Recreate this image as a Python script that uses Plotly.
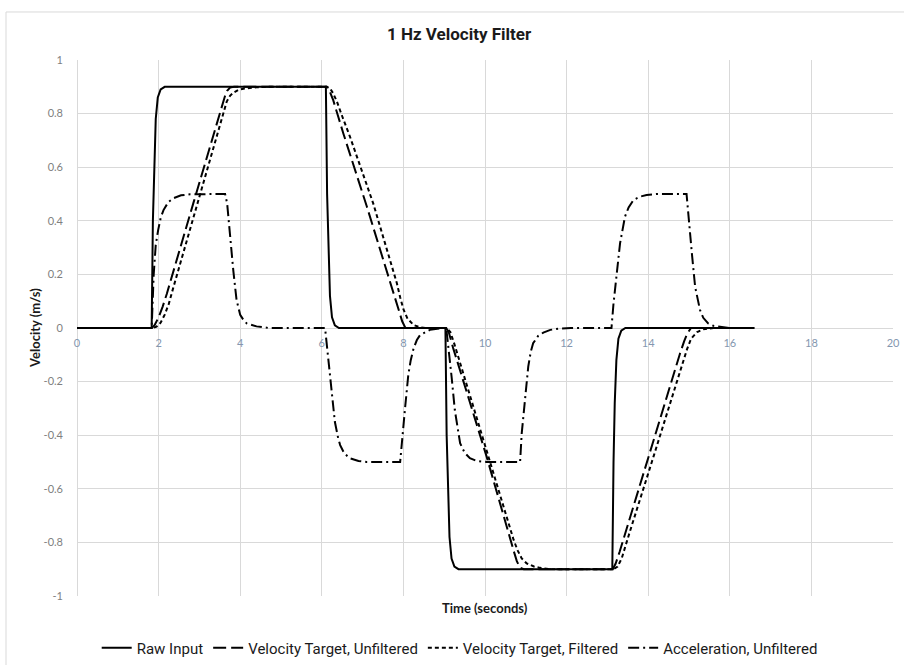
import plotly.graph_objects as go

# ---- series data (time in seconds, value in m/s or m/s^2) ----
raw_t = [0, 1.83, 1.86, 1.89, 1.93, 1.98, 2.05, 2.15,
         6.10, 6.13, 6.16, 6.20, 6.25, 6.32, 6.42,
         9.03, 9.06, 9.09, 9.13, 9.18, 9.25, 9.35,
         13.12, 13.15, 13.18, 13.22, 13.27, 13.34, 13.44, 16.6]
raw_v = [0, 0, 0.4, 0.62, 0.78, 0.86, 0.89, 0.9,
         0.9, 0.5, 0.28, 0.12, 0.04, 0.01, 0,
         0, -0.4, -0.62, -0.78, -0.86, -0.89, -0.9,
         -0.9, -0.5, -0.28, -0.12, -0.04, -0.01, 0, 0]

vel_t = [0, 1.83, 1.9, 2.0, 2.1, 2.2, 2.85, 3.4, 3.55, 3.62, 3.68, 3.75, 3.85,
         6.12, 6.18, 6.28, 6.4, 6.53, 7.1, 7.67, 7.8, 7.9, 7.97, 8.05,
         9.05, 9.12, 9.22, 9.35, 10.04, 10.7, 10.78, 10.86, 10.95,
         13.13, 13.2, 13.3, 13.4, 14.04, 14.78, 14.88, 14.96, 15.05, 16.6]
vel_v = [0, 0, 0.01, 0.04, 0.08, 0.127, 0.465, 0.751, 0.829, 0.862, 0.885, 0.897, 0.9,
         0.9, 0.888, 0.85, 0.79, 0.725, 0.455, 0.18, 0.115, 0.06, 0.025, 0,
         0, -0.02, -0.075, -0.14, -0.48, -0.83, -0.87, -0.895, -0.9,
         -0.9, -0.88, -0.835, -0.785, -0.46, -0.095, -0.05, -0.02, 0, 0]

filt_t = [0, 1.86, 1.95, 2.05, 2.15, 2.25, 2.35, 2.98, 3.5, 3.6, 3.67, 3.75, 3.83, 3.95, 4.08, 4.4, 4.7,
          6.12, 6.2, 6.28, 6.37, 6.5, 6.69, 7.26, 7.75, 7.84, 7.92, 8.0, 8.1, 8.25, 8.4, 8.55,
          9.06, 9.15, 9.25, 9.39, 10.12, 10.7, 10.8, 10.9, 11.02, 11.2, 11.35, 11.6,
          13.15, 13.25, 13.35, 13.45, 13.55, 14.13, 14.78, 14.95, 15.05, 15.2, 15.35, 15.6, 16.6]
filt_v = [0, 0, 0.005, 0.02, 0.05, 0.09, 0.145, 0.48, 0.76, 0.815, 0.845, 0.866, 0.878, 0.888, 0.893, 0.898, 0.9,
          0.9, 0.895, 0.875, 0.845, 0.79, 0.714, 0.465, 0.21, 0.167, 0.115, 0.07, 0.035, 0.011, 0.003, 0,
          0, -0.015, -0.06, -0.13, -0.5, -0.79, -0.83, -0.86, -0.878, -0.89, -0.895, -0.9,
          -0.9, -0.89, -0.86, -0.81, -0.76, -0.48, -0.16, -0.08, -0.04, -0.015, -0.005, 0, 0]

acc_t = [0, 1.83, 1.88, 1.93, 1.99, 2.05, 2.12, 2.24, 2.36, 2.55, 2.77, 3.63, 3.68, 3.75, 3.83, 3.91, 4.0, 4.08, 4.16, 4.4, 4.7,
         6.08, 6.16, 6.24, 6.32, 6.4, 6.45, 6.55, 6.69, 6.9, 7.1, 7.92, 7.96, 8.04, 8.12, 8.18, 8.25, 8.33, 8.41, 8.65, 8.95,
         9.05, 9.18, 9.26, 9.39, 9.5, 9.63, 9.8, 10.04, 10.86, 10.9, 10.98, 11.06, 11.12, 11.18, 11.3, 11.43, 11.6, 11.84, 12.1,
         13.1, 13.15, 13.23, 13.31, 13.43, 13.52, 13.64, 13.8, 13.96, 14.2, 14.94, 14.98, 15.07, 15.15, 15.27, 15.35, 15.47, 15.6, 15.76, 16.0, 16.6]
acc_v = [0, 0, 0.2, 0.31, 0.366, 0.41, 0.44, 0.47, 0.484, 0.495, 0.499, 0.5, 0.465, 0.34, 0.216, 0.105, 0.049, 0.03, 0.017, 0.006, 0,
         0, -0.113, -0.238, -0.35, -0.41, -0.437, -0.468, -0.486, -0.496, -0.5, -0.5, -0.424, -0.3, -0.175, -0.12, -0.076, -0.045, -0.026, -0.007, 0,
         0, -0.18, -0.306, -0.43, -0.465, -0.486, -0.496, -0.5, -0.5, -0.393, -0.256, -0.144, -0.09, -0.057, -0.03, -0.017, -0.007, -0.002, 0,
         0, 0.092, 0.216, 0.316, 0.415, 0.45, 0.478, 0.49, 0.496, 0.5, 0.5, 0.44, 0.279, 0.154, 0.067, 0.038, 0.017, 0.008, 0.004, 0, 0]

series_names = ["Raw Input", "Velocity Target, Unfiltered",
                "Velocity Target, Filtered", "Acceleration, Unfiltered"]

x_ticks = [0, 2, 4, 6, 8, 10, 12, 14, 16, 18, 20]
x_tick_text = ["0", "2", "4", "6", "8", "10", "12", "14", "16", "18", "20"]
y_ticks = [1, 0.8, 0.6, 0.4, 0.2, 0, -0.2, -0.4, -0.6, -0.8, -1]
y_tick_text = ["1", "0.8", "0.6", "0.4", "0.2", "0", "-0.2", "-0.4", "-0.6", "-0.8", "-1"]

NARROW = "Roboto, Liberation Sans Narrow, sans-serif"
GRID = "#d9d9d9"

styles = [
    dict(color="black", width=2, dash="solid"),
    dict(color="black", width=2, dash="13px,5px"),
    dict(color="black", width=2, dash="4px,3px"),
    dict(color="black", width=2, dash="11px,4px,2px,4px"),
]

fig = go.Figure()
for (tx, vy), name, st in zip([(raw_t, raw_v), (vel_t, vel_v), (filt_t, filt_v), (acc_t, acc_v)],
                              series_names, styles):
    fig.add_trace(go.Scatter(x=tx, y=vy, mode="lines", name=name, line=st))

fig.update_layout(
    width=904, height=665,
    margin=dict(l=77, r=11, t=60, b=69, autoexpand=False),
    paper_bgcolor="white", plot_bgcolor="white",
    showlegend=True,
    legend=dict(orientation="h", x=0.469, xanchor="center", y=-0.097, yanchor="middle",
                font=dict(family=NARROW, size=15, color="#1a1a1a"),
                itemwidth=30, tracegroupgap=0, bgcolor="rgba(0,0,0,0)"),
    xaxis=dict(range=[0, 20], tickvals=x_ticks, ticktext=x_tick_text,
               showgrid=True, gridcolor=GRID, gridwidth=1,
               zeroline=True, zerolinecolor=GRID, zerolinewidth=1,
               showline=False, ticks="", ticklabelstandoff=7,
               anchor="free", position=0.5,
               tickfont=dict(family="Lato, sans-serif", size=11, color="#8497B0")),
    yaxis=dict(range=[-1, 1], tickvals=y_ticks, ticktext=y_tick_text,
               showgrid=True, gridcolor=GRID, gridwidth=1,
               zeroline=True, zerolinecolor=GRID, zerolinewidth=1,
               showline=False, ticks="", ticklabelstandoff=13,
               tickfont=dict(family="Lato, sans-serif", size=11, color="#7F7F7F")),
    annotations=[
        dict(text="<b>1 Hz Velocity Filter</b>", xref="paper", yref="paper",
             x=0.469, y=1.0485, xanchor="center", yanchor="middle", showarrow=False,
             font=dict(family=NARROW, size=17, color="#1a1a1a")),
        dict(text="<b>Time (seconds)</b>", xref="paper", yref="paper",
             x=0.5, y=-0.0224, xanchor="center", yanchor="middle", showarrow=False,
             font=dict(family="Lato, sans-serif", size=13, color="#1a1a1a")),
        dict(text="<b>Velocity (m/s)</b>", xref="paper", yref="paper",
             x=-0.0515, y=0.5, xanchor="center", yanchor="middle", showarrow=False,
             textangle=-90,
             font=dict(family="Lato, sans-serif", size=13, color="#1a1a1a")),
    ],
    shapes=[
        dict(type="rect", xref="paper", yref="paper", x0=-0.087, x1=1.02, y0=-0.14, y1=1.0896,
             line=dict(color=GRID, width=1), fillcolor="rgba(0,0,0,0)", layer="below"),
    ],
)

fig.write_html("out.html")
